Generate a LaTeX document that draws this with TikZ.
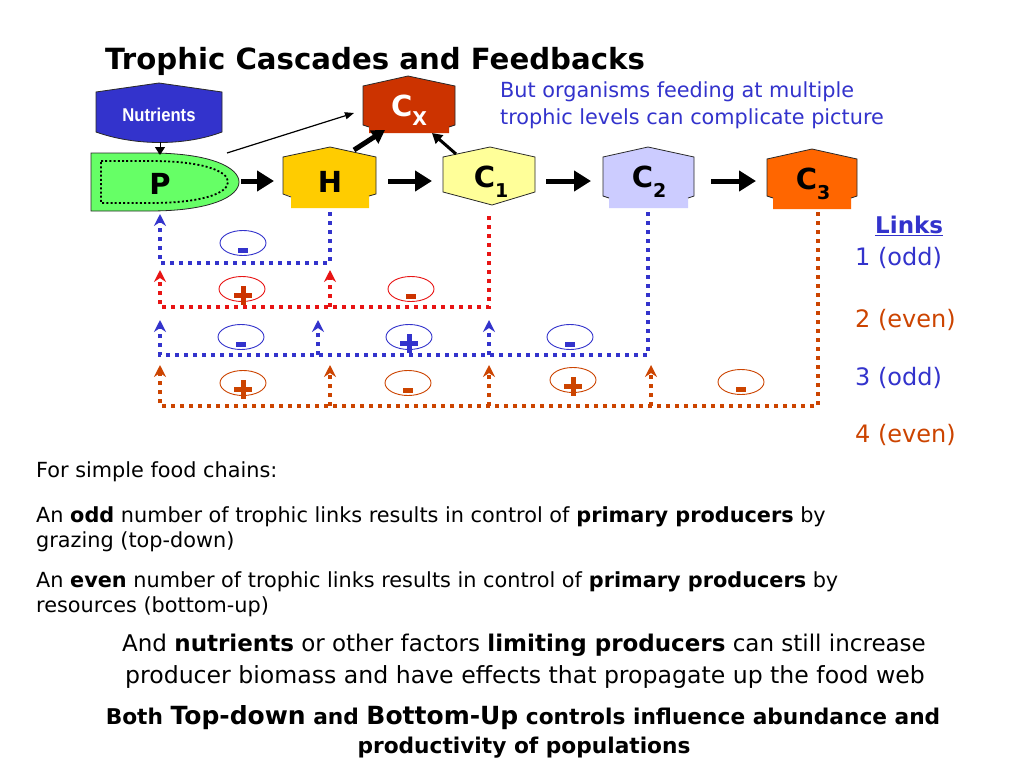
\documentclass[tikz,border=0pt]{standalone}
\usepackage{fontspec}
\setmainfont{DejaVu Sans}
\newfontfamily\arialf{Liberation Sans}
\usetikzlibrary{arrows.meta,shapes.geometric}
\definecolor{blueL}{RGB}{51,51,204}
\definecolor{redL}{RGB}{232,20,20}
\definecolor{brownL}{RGB}{204,68,0}
\definecolor{nutBlue}{RGB}{51,51,204}
\definecolor{pGreen}{RGB}{102,255,102}
\definecolor{hGold}{RGB}{255,204,0}
\definecolor{cOne}{RGB}{255,255,153}
\definecolor{cTwo}{RGB}{204,204,255}
\definecolor{cThree}{RGB}{255,102,0}
\definecolor{cX}{RGB}{204,51,0}
\definecolor{edgeG}{RGB}{40,40,40}
\newcommand\signminus[3]{\fill[#3] ({#1-5},{#2+5}) rectangle ({#1+5},{#2+10});}
\newcommand\signplus[3]{\fill[#3] ({#1-9},{#2+4}) rectangle ({#1+9},{#2+9});
  \fill[#3] ({#1-2.5},{#2-3}) rectangle ({#1+2.5},{#2+16});}
\begin{document}
\begin{tikzpicture}[x=1pt,y=-1pt,
  lbl/.style={font=\fontsize{29}{30}\selectfont\bfseries, inner sep=0pt},
  chainarrow/.style={line width=5pt, -{Triangle[length=17pt,width=20pt]}},
  thinarrow/.style={line width=1.2pt, -{Triangle[length=9pt,width=7pt]}},
  dotl/.style={line width=4pt, dash pattern=on 4pt off 5pt, -{Stealth[length=12pt,width=12pt,inset=4pt]}},
  ell/.style={draw=#1, ellipse, line width=0.9pt, minimum width=46pt, minimum height=25pt, inner sep=0pt},
  shapeedge/.style={draw=edgeG, line width=0.8pt},
  body/.style={font=\fontsize{20.8}{24}\selectfont, inner sep=0pt, anchor=base west},
  cbody/.style={font=\fontsize{23.6}{26}\selectfont, inner sep=0pt, anchor=base},
  leg/.style={font=\fontsize{24}{26}\selectfont, inner sep=0pt, anchor=base west}
]
\useasboundingbox (0,0) rectangle (1024,768);
\fill[white] (0,0) rectangle (1024,768);

% title
\node[inner sep=0pt, anchor=base west, font=\fontsize{29.2}{31}\selectfont\bfseries] (title) at (105,70) {Trophic Cascades and Feedbacks};

% nutrients shape
\filldraw[fill=nutBlue, draw=edgeG, line width=0.8pt] (96,92) -- (159,83) -- (222,92) -- (222,132)
  .. controls (185,146) and (135,146) .. (96,132) -- cycle;
\node[inner sep=0pt, text=white, font=\arialf\fontsize{18.5}{20}\selectfont\bfseries] (nut) at (159,115) {\scalebox{0.9}[1]{Nutrients}};

% P shape
\filldraw[fill=pGreen, draw=edgeG, line width=0.8pt] (91,153) -- (150,153)
  .. controls (212,153) and (239,168) .. (239,182) .. controls (239,196) and (212,211) .. (150,211) -- (91,211) -- cycle;
\draw[black, line width=1.8pt, dash pattern=on 2pt off 2.2pt] (101,161) -- (150,161)
  .. controls (203,161) and (228,171) .. (228,182) .. controls (228,193) and (203,203) .. (150,203) -- (101,203) -- cycle;
\node[lbl] (P) at (160,184) {P};

% H shape
\fill[hGold] (283,157) -- (330,147) -- (376,157) -- (376,194) -- (369,196) -- (369,208) -- (291,208) -- (291,196) -- (283,194) -- cycle;
\draw[shapeedge] (291,197) -- (283,194) -- (283,157) -- (330,147) -- (376,157) -- (376,194) -- (369,196);
\node[lbl] (H) at (330,182) {H};

% C1 shape
\filldraw[fill=cOne, draw=edgeG, line width=0.8pt] (443,157) -- (490,147) -- (535,157) -- (535,192) -- (492,205) -- (443,192) -- cycle;
\node[lbl] (C1) at (491,182) {C\raisebox{-0.35em}{\fontsize{19}{20}\selectfont 1}};

% C2 shape
\fill[cTwo] (603,157) -- (648,147) -- (694,157) -- (694,196) -- (688,198) -- (688,208) -- (609,208) -- (609,198) -- (603,196) -- cycle;
\draw[shapeedge] (609,198) -- (603,196) -- (603,157) -- (648,147) -- (694,157) -- (694,196) -- (688,198);
\node[lbl] (C2) at (649,182) {C\raisebox{-0.35em}{\fontsize{19}{20}\selectfont 2}};

% C3 shape
\fill[cThree] (767,159) -- (812,149) -- (857,159) -- (857,196) -- (851,198) -- (851,209) -- (773,209) -- (773,198) -- (767,196) -- cycle;
\draw[shapeedge] (773,198) -- (767,196) -- (767,159) -- (812,149) -- (857,159) -- (857,196) -- (851,198);
\node[lbl] (C3) at (813,184) {C\raisebox{-0.35em}{\fontsize{19}{20}\selectfont 3}};

% Cx shape
\fill[cX] (363,86) -- (408,76) -- (455,86) -- (455,125) -- (449,127) -- (449,133) -- (369,133) -- (369,127) -- (363,125) -- cycle;
\draw[shapeedge] (369,127) -- (363,125) -- (363,86) -- (408,76) -- (455,86) -- (455,125) -- (449,127);
\node[lbl, text=white] (CX) at (409,110) {C\raisebox{-0.3em}{\fontsize{19}{20}\selectfont X}};

% blue note
\node[inner sep=0pt, anchor=base west, text=blueL, font=\fontsize{20.8}{23}\selectfont] (note1) at (500,97) {But organisms feeding at multiple};
\node[inner sep=0pt, anchor=base west, text=blueL, font=\fontsize{20.8}{23}\selectfont] (note2) at (500,124) {trophic levels can complicate picture};

% connectors on chain
\coordinate (nutB) at (160,142);
\coordinate (pTop) at (160,155);
\draw[line width=1pt, -{Triangle[length=8pt,width=10pt]}] (nutB) -- (pTop);
\coordinate (pE) at (241,181); \coordinate (hW) at (274,181);
\draw[chainarrow] (pE) -- (hW);
\coordinate (hE) at (388,181); \coordinate (c1W) at (432,181);
\draw[chainarrow] (hE) -- (c1W);
\coordinate (c1E) at (546,181); \coordinate (c2W) at (591,181);
\draw[chainarrow] (c1E) -- (c2W);
\coordinate (c2E) at (711,181); \coordinate (c3W) at (756,181);
\draw[chainarrow] (c2E) -- (c3W);
\coordinate (pNE) at (227,153); \coordinate (cxW) at (354,113);
\draw[thinarrow] (pNE) -- (cxW);
\coordinate (hNE) at (354,150); \coordinate (cxS1) at (385,130);
\draw[line width=5pt, -{Triangle[length=13pt,width=15pt]}] (hNE) -- (cxS1);
\coordinate (c1NW) at (456,154); \coordinate (cxS2) at (432,133);
\draw[line width=3pt, -{Triangle[length=10pt,width=11pt]}] (c1NW) -- (cxS2);

% link 1 (blue)
\coordinate (hB) at (330,212); \coordinate (pB) at (160,214);
\draw[dotl, blueL] (hB) -- (330,263) -- (160,263) -- (pB);
% link 2 (red)
\coordinate (c1B) at (489,216);
\coordinate (r1) at (160,270); \coordinate (r2) at (330,270);
\draw[dotl, redL] (c1B) -- (489,307) -- (160,307) -- (r1);
\draw[dotl, redL] (330,307) -- (r2);
% link 3 (blue)
\coordinate (c2B) at (648,212);
\draw[dotl, blueL] (c2B) -- (648,355) -- (160,355) -- (160,320);
\draw[dotl, blueL] (318,355) -- (318,320);
\draw[dotl, blueL] (489,355) -- (489,320);
% link 4 (brown)
\coordinate (c3B) at (818,212);
\draw[dotl, brownL] (c3B) -- (818,406) -- (160,406) -- (160,365);
\draw[dotl, brownL] (330,406) -- (330,365);
\draw[dotl, brownL] (489,406) -- (489,365);
\draw[dotl, brownL] (651,406) -- (651,365);

% sign ellipses
\node[ell=blueL] (s11) at (243,243) {}; \signminus{243}{243}{blueL}
\node[ell=redL] (s21) at (242,289) {}; \signplus{243}{289}{cX}
\node[ell=redL] (s22) at (411,289) {}; \signminus{411}{289}{cX}
\node[ell=blueL] (s31) at (241,337) {}; \signminus{241}{337}{blueL}
\node[ell=blueL] (s32) at (409,337) {}; \signplus{409}{337}{blueL}
\node[ell=blueL] (s33) at (570,337) {}; \signminus{570}{337}{blueL}
\node[ell=brownL] (s41) at (243,383) {}; \signplus{243}{383}{brownL}
\node[ell=brownL] (s42) at (408,383) {}; \signminus{408}{383}{brownL}
\node[ell=brownL] (s43) at (573,380) {}; \signplus{573}{380}{brownL}
\node[ell=brownL] (s44) at (741,382) {}; \signminus{741}{382}{brownL}

% legend
\node[inner sep=0pt, anchor=base west, text=blueL, font=\fontsize{23}{26}\selectfont\bfseries] (lk) at (875,233) {\underline{Links}};
\node[leg, text=blueL] (l1) at (855,265) {1 (odd)};
\node[leg, text=brownL] (l2) at (855,327) {2 (even)};
\node[leg, text=blueL] (l3) at (855,385) {3 (odd)};
\node[leg, text=brownL] (l4) at (855,442) {4 (even)};

% body text
\node[body] (t1) at (36,477) {For simple food chains:};
\node[body] (t2) at (36,522) {An \textbf{odd} number of trophic links results in control of \textbf{primary producers} by};
\node[body] (t3) at (36,547) {grazing (top-down)};
\node[body] (t4) at (36,587) {An \textbf{even} number of trophic links results in control of \textbf{primary producers} by};
\node[body] (t5) at (36,612) {resources (bottom-up)};
\node[cbody, font=\fontsize{23}{26}\selectfont] (t6) at (524,651) {And \textbf{nutrients} or other factors \textbf{limiting producers} can still increase};
\node[cbody] (t7) at (525,683) {producer biomass and have effects that propagate up the food web};
\node[cbody, font=\fontsize{21.7}{24}\selectfont\bfseries] (t8) at (523,724) {Both {\fontsize{25}{26}\selectfont Top-down} and {\fontsize{25}{26}\selectfont Bottom-Up} controls influence abundance and};
\node[cbody, font=\fontsize{21.7}{24}\selectfont\bfseries] (t9) at (524,753) {productivity of populations};
\end{tikzpicture}
\end{document}
